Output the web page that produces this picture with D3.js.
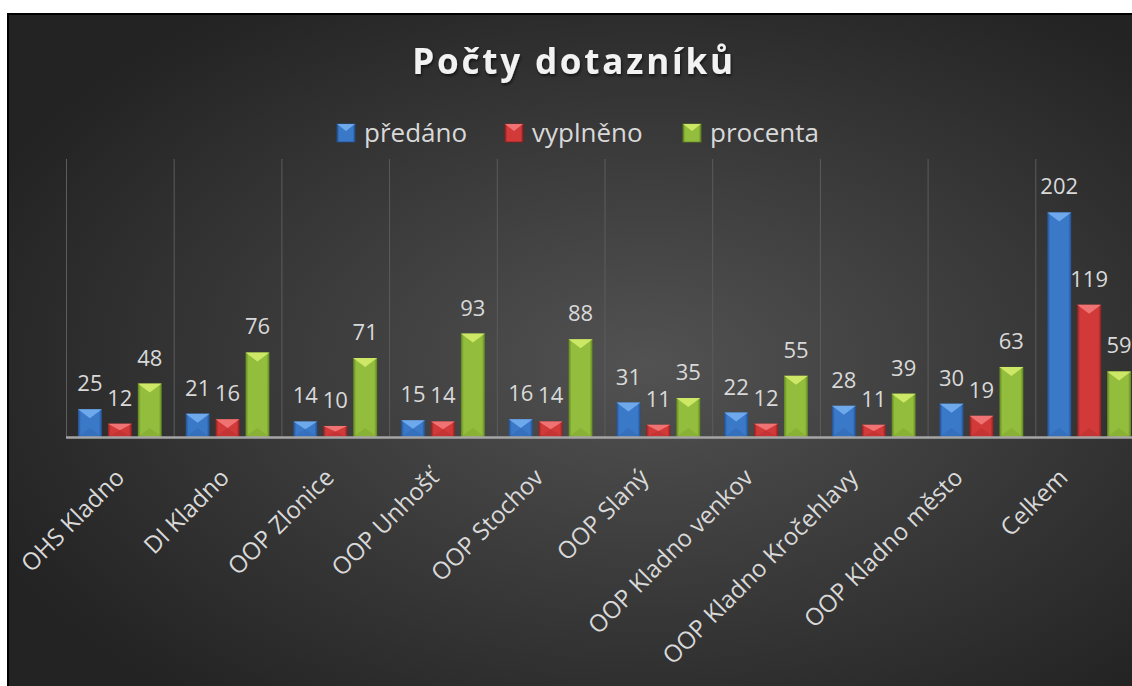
<!DOCTYPE html>
<html>
<head>
<meta charset="utf-8">
<script src="https://cdn.jsdelivr.net/npm/d3@7"></script>
<style>
  body { margin: 0; background: #fff; }
  svg { display: block; }
</style>
</head>
<body>
<svg id="chart"></svg>
<script>
var categories = ["OHS Kladno", "DI Kladno", "OOP Zlonice", "OOP Unhošť", "OOP Stochov",
    "OOP Slaný", "OOP Kladno venkov", "OOP Kladno Kročehlavy", "OOP Kladno město", "Celkem"]
var series = ["předáno", "vyplněno", "procenta"]
var predano = [25, 21, 14, 15, 16, 31, 22, 28, 30, 202]
var vyplneno = [12, 16, 10, 14, 14, 11, 12, 11, 19, 119]
var procenta = [48, 76, 71, 93, 88, 35, 55, 39, 63, 59]
var values = [predano, vyplneno, procenta]

var colors = {
    "předáno":  {base: "#3a78c8", dark: "#23508f", light: "#74aef0"},
    "vyplněno": {base: "#d23a3a", dark: "#8f2020", light: "#f37a7a"},
    "procenta": {base: "#93bd3c", dark: "#5f8420", light: "#d4ec6a"}
}

var W = 1132, H = 686
var svg = d3.select("#chart").attr("width", W).attr("height", H)

var defs = svg.append("defs")
var bg = defs.append("radialGradient").attr("id", "bg")
    .attr("cx", "55%").attr("cy", "50%").attr("r", "62%")
bg.append("stop").attr("offset", "0%").attr("stop-color", "#525252")
bg.append("stop").attr("offset", "100%").attr("stop-color", "#232323")

series.forEach((s, i) => {
    var g = defs.append("linearGradient").attr("id", "bar" + i)
        .attr("x1", "0%").attr("x2", "100%").attr("y1", "0%").attr("y2", "0%")
    g.append("stop").attr("offset", "0%").attr("stop-color", colors[s].dark)
    g.append("stop").attr("offset", "12%").attr("stop-color", colors[s].base)
    g.append("stop").attr("offset", "88%").attr("stop-color", colors[s].base)
    g.append("stop").attr("offset", "100%").attr("stop-color", colors[s].dark)
})

var shadow = defs.append("filter").attr("id", "shadow")
    .attr("x", "-10%").attr("y", "-20%").attr("width", "120%").attr("height", "150%")
shadow.append("feDropShadow").attr("dx", 1).attr("dy", 2).attr("stdDeviation", 1.5)
    .attr("flood-color", "#000").attr("flood-opacity", 0.6)

// chart frame
svg.append("rect")
    .attr("x", 8).attr("y", 14)
    .attr("width", 1160).attr("height", 700)
    .attr("fill", "url(#bg)")
    .attr("stroke", "#000").attr("stroke-width", 2)

var plotTop = 159, plotBottom = 437, plotLeft = 66
var band = 107.7

var x = d3.scaleBand()
    .domain(categories)
    .range([plotLeft, plotLeft + band * categories.length])
var x1 = d3.scaleBand()
    .domain(series)
    .range([0, x.bandwidth()])
    .paddingInner(0.2)
    .paddingOuter(0.4)
var y = d3.scaleLinear()
    .domain([0, 250])
    .range([plotBottom, plotTop])

// category separators
svg.append("g").selectAll("line")
    .data(categories)
    .join("line")
    .attr("x1", d => x(d) + 0.5).attr("x2", d => x(d) + 0.5)
    .attr("y1", plotTop).attr("y2", plotBottom)
    .attr("stroke", "#5c5c5c").attr("stroke-width", 1)

var font = "'Open Sans', 'Noto Sans', sans-serif"

// bars
var bw = x1.bandwidth()
series.forEach((s, si) => {
    var g = svg.append("g")
    values[si].forEach((v, ci) => {
        var bx = x(categories[ci]) + x1(s)
        var by = y(v)
        var h = plotBottom - by
        var bev = Math.min(9, h / 2)
        g.append("rect")
            .attr("x", bx).attr("y", by)
            .attr("width", bw).attr("height", h)
            .attr("fill", "url(#bar" + si + ")")
        // bevel facets
        g.append("path")
            .attr("d", `M${bx},${by}L${bx + bw},${by}L${bx + bw / 2},${by + bev}Z`)
            .attr("fill", colors[s].light).attr("opacity", 0.9)
        g.append("path")
            .attr("d", `M${bx},${plotBottom}L${bx + bw},${plotBottom}L${bx + bw / 2},${plotBottom - bev}Z`)
            .attr("fill", colors[s].dark).attr("opacity", 0.2)
        g.append("text")
            .attr("x", bx + bw / 2)
            .attr("y", by - 18)
            .attr("text-anchor", "middle")
            .attr("fill", "#d9d9d9")
            .style("font-family", font)
            .style("font-size", "22px")
            .text(v)
    })
})

// axis line
svg.append("line")
    .attr("x1", plotLeft).attr("x2", W)
    .attr("y1", plotBottom + 0.5).attr("y2", plotBottom + 0.5)
    .attr("stroke", "#a6a6a6").attr("stroke-width", 2.5)

// category labels
var lx = d3.scalePoint()
    .domain(categories)
    .range([x(categories[0]) + band / 2 + 6, x(categories[categories.length - 1]) + band / 2 - 20])
svg.append("g").selectAll("text")
    .data(categories)
    .join("text")
    .attr("transform", d => `translate(${lx(d)},${plotBottom + 42}) rotate(-45)`)
    .attr("text-anchor", "end")
    .attr("fill", "#d9d9d9")
    .style("font-family", font)
    .style("font-size", "24px")
    .text(d => d)

// title
svg.append("text")
    .attr("x", 574).attr("y", 74)
    .attr("text-anchor", "middle")
    .attr("fill", "#f2f2f2")
    .attr("filter", "url(#shadow)")
    .style("font-family", font)
    .style("font-weight", "bold")
    .style("font-size", "35px")
    .style("letter-spacing", "2.8px")
    .text("Počty dotazníků")

// legend
var legendX = [337, 505, 683]
series.forEach((s, i) => {
    var g = svg.append("g").attr("transform", `translate(${legendX[i]},124)`)
    g.append("rect").attr("width", 18).attr("height", 18)
        .attr("fill", "url(#bar" + i + ")")
        .attr("stroke", colors[s].dark).attr("stroke-width", 0.8)
    g.append("path").attr("d", "M0,0L18,0L9,7Z").attr("fill", colors[s].light).attr("opacity", 0.9)
    g.append("text")
        .attr("x", 27).attr("y", 18)
        .attr("fill", "#d9d9d9")
        .style("font-family", font)
        .style("font-size", "26px")
        .text(s)
})
</script>
</body>
</html>
